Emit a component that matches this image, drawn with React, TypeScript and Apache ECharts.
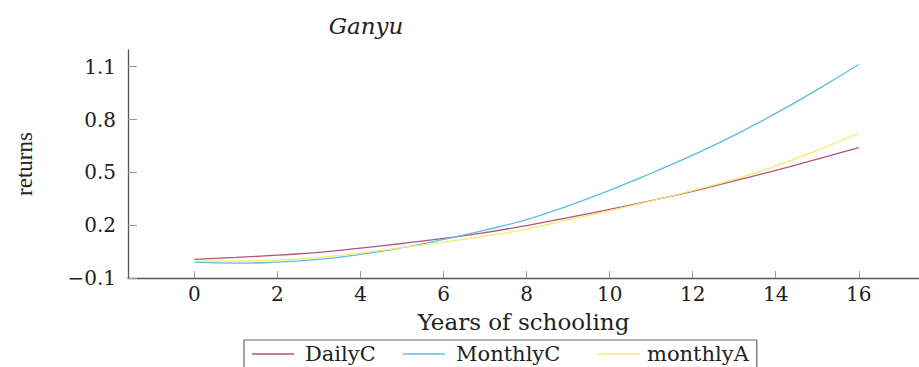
import React, { useEffect, useRef } from "react";
import * as echarts from "echarts";

const years = [0, 1, 2, 3, 4, 5, 6, 7, 8, 9, 10, 11, 12, 13, 14, 15, 16];
const dailyC = [0.006, 0.017, 0.03, 0.045, 0.07, 0.096, 0.125, 0.158, 0.198, 0.243, 0.29, 0.34, 0.392, 0.452, 0.511, 0.575, 0.64];
const monthlyC = [-0.01, -0.016, -0.01, 0.006, 0.034, 0.072, 0.119, 0.172, 0.232, 0.31, 0.398, 0.495, 0.598, 0.71, 0.835, 0.97, 1.113];
const monthlyA = [-0.004, -0.004, 0.002, 0.017, 0.042, 0.072, 0.104, 0.138, 0.178, 0.23, 0.283, 0.338, 0.396, 0.46, 0.536, 0.625, 0.722];
const xTicks = [0, 2, 4, 6, 8, 10, 12, 14, 16];
const yTicks = [-0.1, 0.2, 0.5, 0.8, 1.1];
const seriesNames = ["DailyC", "MonthlyC", "monthlyA"];
const colors = ["#b5527f", "#5cbde0", "#f6ea6a"];

const SERIF = "'DejaVu Serif', serif";

export default function App() {
  const ref = useRef<HTMLDivElement>(null);
  useEffect(() => {
    if (!ref.current) return;
    const chart = echarts.init(ref.current, null, { renderer: "svg" });
    const values = [dailyC, monthlyC, monthlyA];
    chart.setOption({
      animation: false,
      backgroundColor: "#ffffff",
      grid: { left: 128, right: 0, top: 50, bottom: 89 },
      graphic: [
        {
          type: "text",
          x: 366,
          y: 26,
          style: {
            text: "Ganyu",
            fontFamily: SERIF,
            fontStyle: "italic",
            fontSize: 23,
            fill: "#222",
            textAlign: "center",
            textVerticalAlign: "middle",
          },
        },
      ],
      legend: {
        left: 244,
        top: 340,
        orient: "horizontal",
        icon: "rect",
        itemWidth: 42,
        itemHeight: 1.5,
        itemGap: 7,
        borderColor: "#666",
        borderWidth: 1.2,
        borderRadius: 0,
        padding: [3, 8, 12, 8],
        textStyle: { fontFamily: SERIF, fontSize: 21, color: "#222", lineHeight: 22 },
        data: [
          { name: seriesNames[0], textStyle: { width: 91, padding: [0, 0, 0, 6] } },
          { name: seriesNames[1], textStyle: { width: 135, padding: [0, 0, 0, 6] } },
          { name: seriesNames[2], textStyle: { width: 92, padding: [0, 0, 0, 2] } },
        ],
      },
      xAxis: {
        type: "value",
        min: -1.6,
        max: 17.45,
        name: "Years of schooling",
        nameLocation: "middle",
        nameGap: 32,
        nameTextStyle: { fontFamily: SERIF, fontSize: 23, color: "#222" },
        axisLine: { show: true, onZero: false, lineStyle: { color: "#555", width: 1.3 } },
        axisTick: {
          show: true,
          inside: true,
          length: 7,
          customValues: xTicks,
          lineStyle: { color: "#999", width: 1 },
        },
        axisLabel: {
          customValues: xTicks,
          margin: 6,
          fontFamily: SERIF,
          fontSize: 20,
          color: "#222",
        },
        splitLine: { show: false },
      },
      yAxis: {
        type: "value",
        min: -0.1,
        max: 1.195,
        name: "returns",
        nameLocation: "middle",
        nameGap: 92,
        nameTextStyle: { fontFamily: "'Liberation Serif', serif", fontSize: 23, color: "#222" },
        axisLine: { show: true, onZero: false, lineStyle: { color: "#555", width: 1.3 } },
        axisTick: {
          show: true,
          inside: true,
          length: 9,
          customValues: yTicks,
          lineStyle: { color: "#999", width: 1 },
        },
        axisLabel: {
          customValues: yTicks,
          margin: 12,
          fontFamily: SERIF,
          fontSize: 20,
          color: "#222",
          formatter: (v: number) => (v < 0 ? "\u2212" + Math.abs(v).toFixed(1) : v.toFixed(1)),
        },
        splitLine: { show: false },
      },
      series: seriesNames.map((name, i) => ({
        name,
        type: "line",
        smooth: true,
        showSymbol: false,
        symbol: "none",
        color: colors[i],
        lineStyle: { color: colors[i], width: 1.3 },
        data: years.map((x, j) => [x, values[i][j]]),
      })),
    });
    return () => chart.dispose();
  }, []);
  return (
    <div
      ref={ref}
      style={{ position: "fixed", left: 0, top: 0, width: 919, height: 367, background: "#fff" }}
    />
  );
}
